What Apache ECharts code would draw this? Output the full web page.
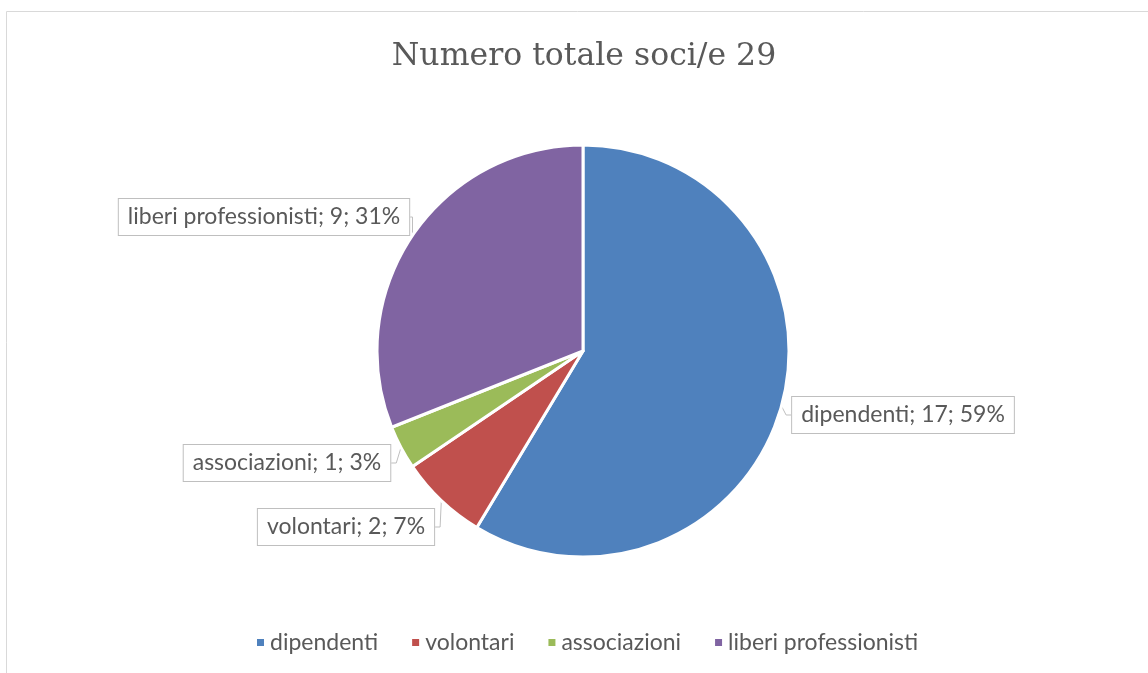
<!DOCTYPE html>
<html>
<head>
<meta charset="utf-8">
<script src="https://cdn.jsdelivr.net/npm/echarts@6/dist/echarts.min.js"></script>
<style>
  html, body { margin: 0; padding: 0; background: #fff; }
  #chart { width: 1148px; height: 673px; }
</style>
</head>
<body>
<div id="chart"></div>
<script>
// dati
const categories = ['dipendenti', 'volontari', 'associazioni', 'liberi professionisti'];
const values = [17, 2, 1, 9];
const percents = ['59%', '7%', '3%', '31%'];
const colors = ['#4f81bd', '#c0504d', '#9bbb59', '#8064a2'];
const titleText = 'Numero totale soci/e 29';

// posizione dei box delle etichette (centro), come nel grafico originale
const labelPos = [[903, 415], [346, 527], [287, 463], [264, 217]];

let chart = echarts.init(document.getElementById('chart'));

chart.setOption({
    animation: false,
    color: colors,
    graphic: [{
        type: 'rect',
        shape: {x: 6.5, y: 11.5, width: 1200, height: 700},
        style: {fill: 'none', stroke: '#d9d9d9', lineWidth: 1},
        silent: true,
        z: -10
    }],
    title: {
        text: titleText,
        left: 579,
        textAlign: 'center',
        top: 36,
        textStyle: {
            fontFamily: 'DejaVu Serif',
            fontSize: 31.5,
            fontWeight: 'normal',
            color: '#595959'
        }
    },
    legend: {
        bottom: 14,
        left: 250,
        icon: 'rect',
        itemWidth: 9,
        itemHeight: 9,
        itemGap: 32,
        data: categories,
        textStyle: {fontFamily: 'Lato', fontSize: 23, color: '#595959'}
    },
    series: [{
        type: 'pie',
        center: [583, 351],
        radius: 206,
        startAngle: 90,
        clockwise: true,
        data: categories.map((c, i) => ({name: c, value: values[i]})),
        itemStyle: {borderColor: '#fff', borderWidth: 3},
        emphasis: {disabled: true},
        label: {
            show: true,
            formatter: p => p.name + '; ' + p.value + '; ' + percents[p.dataIndex],
            fontFamily: 'Lato',
            fontSize: 23,
            lineHeight: 27,
            color: '#595959',
            backgroundColor: '#fff',
            borderColor: '#bfbfbf',
            borderWidth: 1,
            padding: [5, 9, 4, 9]
        },
        labelLine: {
            show: true,
            length: 5,
            length2: 5,
            lineStyle: {color: '#bfbfbf', width: 1}
        },
        labelLayout: function (params) {
            let p = labelPos[params.dataIndex];
            return {x: p[0], y: p[1], align: 'center', verticalAlign: 'middle'};
        }
    }]
});
</script>
</body>
</html>
